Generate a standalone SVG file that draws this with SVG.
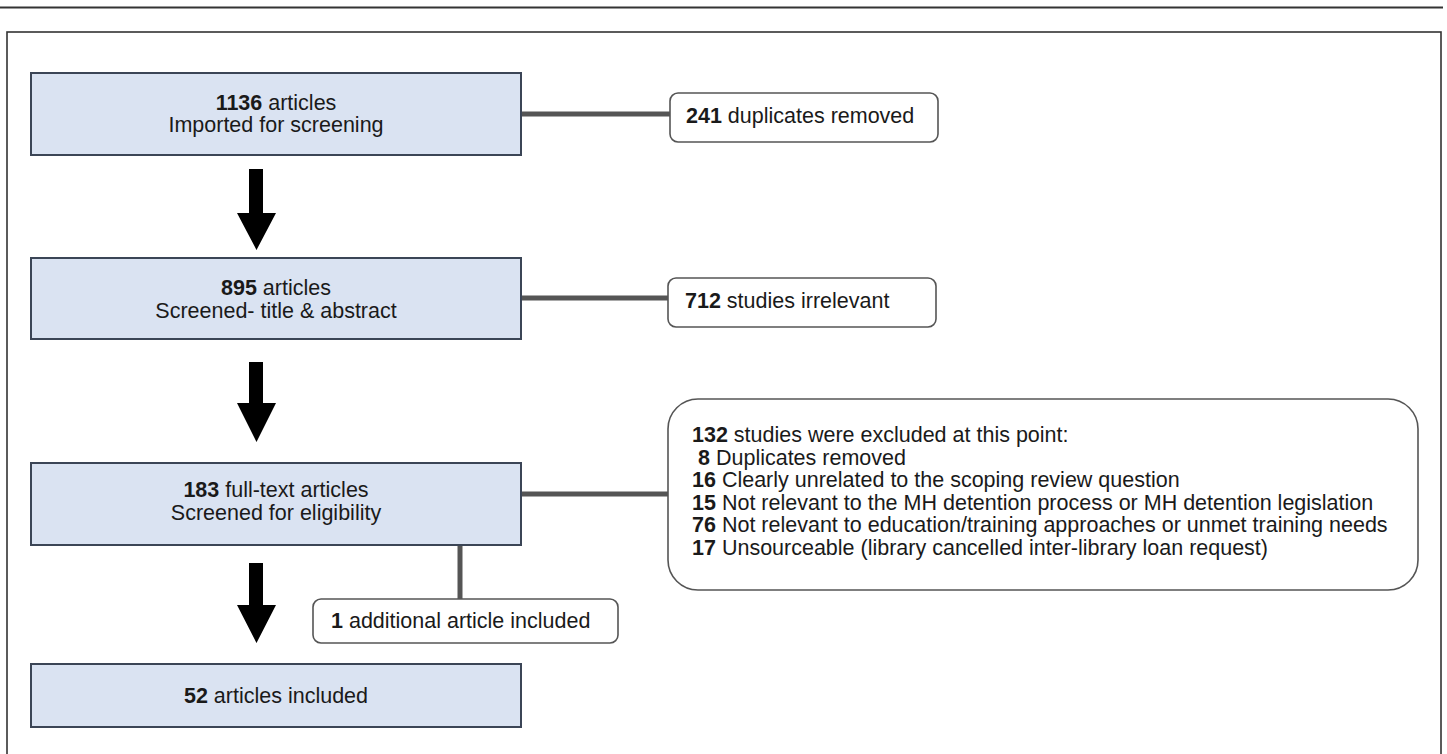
<svg xmlns="http://www.w3.org/2000/svg" width="1447" height="754" viewBox="0 0 1447 754">
<style>
.main{fill:#dae3f2;stroke:#3b4556;stroke-width:2}
.side{fill:#ffffff;stroke:#555;stroke-width:1.6}
.conn{stroke:#555;stroke-width:5;fill:none}
.arrow{fill:#000}
text{font-family:"Liberation Sans",Arial,sans-serif;font-size:21.5px;fill:#1a1a1a}
.c{text-anchor:middle}
.b{font-weight:bold}
</style>
<rect x="0" y="0" width="1447" height="754" fill="#fff"/>
<line x1="0" y1="7.5" x2="1443" y2="7.5" stroke="#333" stroke-width="2"/>
<rect x="7" y="32" width="1434" height="760" fill="none" stroke="#333" stroke-width="1.6"/>
<g id="connectors">
<line class="conn" x1="521" y1="114" x2="670" y2="114"/>
<line class="conn" x1="521" y1="298" x2="668" y2="298"/>
<line class="conn" x1="521" y1="494" x2="668" y2="494"/>
<line class="conn" x1="460" y1="546" x2="460" y2="599"/>
<polygon class="arrow" points="249,169 263,169 263,213 276,213 256.5,250 237,213 249,213"/>
<polygon class="arrow" points="249,362 263,362 263,403 276,403 256.5,442 237,403 249,403"/>
<polygon class="arrow" points="249,563 263,563 263,605 276,605 256.5,643 237,605 249,605"/>
</g>
<g id="n1">
<rect class="main" x="31" y="73" width="490" height="82"/>
<text class="c" x="276" y="110"><tspan class="b">1136</tspan> articles</text>
<text class="c" x="276" y="132">Imported for screening</text>
</g>
<g id="n2">
<rect class="side" x="670" y="93" width="268" height="49" rx="8"/>
<text x="686" y="123"><tspan class="b">241</tspan> duplicates removed</text>
</g>
<g id="n3">
<rect class="main" x="31" y="258" width="490" height="81"/>
<text class="c" x="276" y="295"><tspan class="b">895</tspan> articles</text>
<text class="c" x="276" y="318">Screened- title &amp; abstract</text>
</g>
<g id="n4">
<rect class="side" x="668" y="278" width="268" height="49" rx="8"/>
<text x="685" y="308"><tspan class="b">712</tspan> studies irrelevant</text>
</g>
<g id="n5">
<rect class="main" x="31" y="463" width="490" height="82"/>
<text class="c" x="276" y="497"><tspan class="b">183</tspan> full-text articles</text>
<text class="c" x="276" y="520">Screened for eligibility</text>
</g>
<g id="n6">
<rect class="side" x="668" y="399" width="750" height="191" rx="30"/>
<text x="692" y="442"><tspan class="b">132</tspan> studies were excluded at this point:</text>
<text x="698" y="464.5"><tspan class="b">8</tspan> Duplicates removed</text>
<text x="692" y="487"><tspan class="b">16</tspan> Clearly unrelated to the scoping review question</text>
<text x="692" y="509.5"><tspan class="b">15</tspan> Not relevant to the MH detention process or MH detention legislation</text>
<text x="692" y="532"><tspan class="b">76</tspan> Not relevant to education/training approaches or unmet training needs</text>
<text x="692" y="554.5"><tspan class="b">17</tspan> Unsourceable (library cancelled inter-library loan request)</text>
</g>
<g id="n7">
<rect class="side" x="313" y="599" width="305" height="44" rx="8"/>
<text x="331" y="628"><tspan class="b">1</tspan> additional article included</text>
</g>
<g id="n8">
<rect class="main" x="31" y="664" width="490" height="63"/>
<text class="c" x="276" y="703"><tspan class="b">52</tspan> articles included</text>
</g>
</svg>
